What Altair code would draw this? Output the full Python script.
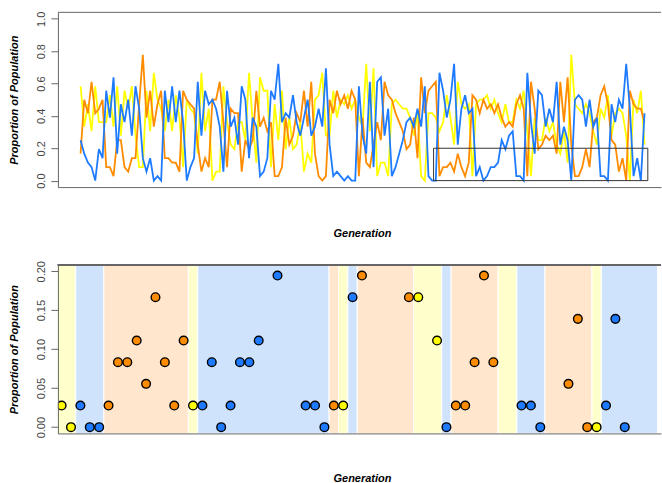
import altair as alt
import pandas as pd

# ---------------- data (counts out of a population of 36) ----------------
POP = 36
blue = [9, 6, 4, 3, 0, 7, 5, 20, 14, 23,
        6, 17, 13, 18, 10, 21, 16, 5, 2, 5,
        0, 1, 0, 20, 13, 21, 13, 20, 13, 0,
        3, 5, 22, 10, 20, 17, 18, 16, 12, 2,
        20, 12, 14, 8, 21, 18, 5, 14, 12, 1,
        2, 5, 20, 18, 26, 13, 15, 14, 19, 13,
        10, 14, 18, 10, 12, 16, 12, 25, 8, 1,
        2, 1, 0, 1, 0, 0, 21, 10, 6, 22,
        3, 22, 23, 10, 16, 1, 3, 6, 9, 13,
        14, 12, 16, 12, 21, 1, 0, 0, 24, 20,
        14, 18, 26, 8, 16, 19, 15, 16, 1, 3,
        0, 1, 3, 3, 4, 9, 7, 10, 11, 1,
        1, 0, 24, 13, 6, 20, 19, 12, 16, 13,
        22, 8, 12, 9, 0, 18, 19, 18, 12, 18,
        12, 14, 1, 1, 0, 17, 13, 18, 16, 26,
        16, 1, 5, 0, 15]
orange = [6, 18, 15, 22, 15, 16, 18, 3, 3, 1,
          9, 9, 3, 2, 5, 5, 17, 28, 14, 20,
          12, 17, 20, 5, 5, 4, 4, 2, 20, 18,
          17, 16, 8, 2, 5, 3, 18, 18, 22, 13,
          3, 16, 15, 15, 2, 9, 7, 9, 20, 12,
          14, 11, 13, 1, 1, 3, 14, 8, 10, 15,
          13, 20, 12, 22, 6, 1, 0, 1, 18, 15,
          20, 17, 19, 16, 20, 18, 1, 14, 4, 3,
          8, 13, 9, 22, 19, 18, 15, 13, 11, 7,
          8, 14, 5, 23, 15, 20, 21, 22, 1, 3,
          3, 4, 2, 6, 3, 1, 4, 19, 18, 15,
          18, 16, 17, 15, 17, 14, 12, 13, 12, 17,
          19, 16, 1, 22, 16, 7, 8, 10, 9, 10,
          6, 22, 13, 23, 8, 1, 1, 3, 7, 3,
          13, 14, 19, 21, 17, 9, 8, 2, 5, 0,
          20, 17, 16, 16, 13]
yellow = [21, 12, 17, 11, 21, 13, 13, 13, 19, 12,
          21, 10, 20, 16, 21, 10, 3, 3, 20, 11,
          24, 18, 16, 11, 18, 11, 19, 14, 3, 18,
          16, 15, 6, 24, 11, 16, 0, 2, 2, 21,
          13, 8, 7, 13, 13, 9, 24, 13, 4, 23,
          20, 20, 3, 17, 9, 20, 7, 14, 7, 8,
          13, 2, 6, 4, 18, 19, 24, 10, 10, 20,
          14, 18, 17, 19, 16, 18, 14, 12, 26, 11,
          25, 1, 4, 4, 1, 17, 18, 17, 16, 16,
          14, 10, 15, 1, 0, 15, 15, 14, 11, 13,
          19, 14, 8, 22, 17, 16, 17, 1, 17, 18,
          18, 19, 16, 18, 15, 13, 17, 13, 13, 18,
          16, 20, 11, 1, 14, 9, 9, 14, 11, 13,
          8, 6, 11, 4, 28, 17, 16, 15, 17, 15,
          11, 8, 16, 14, 19, 10, 15, 16, 15, 10,
          0, 18, 15, 20, 8]

# zoomed window: type with the lowest share and its count (None = above 0.20)
low_type = ["Y", "Y", "B", "B", "B", "O", "O", "O", "O", "O",
            "O", "O", "O", "O", "Y", "B", "B", "B", "B", "B",
            "B", "B", "B", "B", "B", "B", "B", "B", "B", "O",
            "Y", "B", "O", "O", "O", "O", "O", "O", "Y", "Y",
            "Y", "B", "O", "O", "O", "O", "O", "Y", "Y", "B",
            "B", "B", "O", "O", "O", "O", "O", "Y", "B", "B",
            "B", "B", "B", "B"]
low_count = [1, 0, 1, 0, 0, 1, 3, 3, 4, 2,
             6, 3, 1, 4, 1, 1, 3, 0, 1, 3,
             3, 4, None, 7, None, None, 1, 1, 0, 1,
             1, 6, 7, None, None, None, None, 6, 6, None,
             4, 0, 1, 1, 3, 7, 3, None, None, 1,
             1, 0, None, None, 2, 5, 0, 0, 1, 5,
             0, None, None, None]

box_gen = [96.4, 154.9]
box_prop = [0.0, 0.2]

# ---------------- styling ----------------
C_LINE = {"Yellow": "#FFFF00", "Orange": "#FF8C00", "Blue": "#1E7BFF"}
C_PT = {"Y": "#FFFF00", "O": "#FF8C00", "B": "#1E7BFF"}
C_BAND = {"Y": "#FFFFCC", "O": "#FFE6CC", "B": "#D0E3FC"}
FONT = "Liberation Sans"
AX = "#666666"
W = 604
H1 = 175
H2 = 168.7

# ---------------- top panel ----------------
rows = []
for name, arr in [("Yellow", yellow), ("Orange", orange), ("Blue", blue)]:
    for g, c in enumerate(arr):
        rows.append({"gen": g, "series": name, "prop": c / POP})
top_df = pd.DataFrame(rows)

xs_top = alt.Scale(domain=[-6.19, 158.5], nice=False, zero=False)
ys_top = alt.Scale(domain=[-0.04, 1.04], nice=False, zero=False)

x_axis_top = alt.Axis(title="Generation", labels=False, ticks=False, grid=False,
                      domain=True, domainColor=AX, titlePadding=40, titleX=304.5, zindex=1)
y_axis_top = alt.Axis(title="Proportion of Population", values=[0, 0.2, 0.4, 0.6, 0.8, 1.0],
                      format=".1f", grid=False, tickSize=7, tickColor=AX, domainColor=AX,
                      labelAngle=270, labelAlign="center", labelBaseline="alphabetic",
                      labelPadding=6.5, titleX=-40, titleY=H1 / 2, titleBaseline="alphabetic",
                      zindex=1)

base_top = alt.Chart(top_df)
line_layers = []
for name in ["Yellow", "Orange", "Blue"]:
    line_layers.append(
        base_top.transform_filter(alt.datum.series == name)
        .mark_line(strokeWidth=1.8, color=C_LINE[name], clip=True)
        .encode(
            x=alt.X("gen:Q", scale=xs_top, axis=x_axis_top),
            y=alt.Y("prop:Q", scale=ys_top, axis=y_axis_top),
        )
    )

box_df = pd.DataFrame({"x0": [box_gen[0]], "x1": [box_gen[1]],
                       "y0": [box_prop[0]], "y1": [box_prop[1]]})
box = alt.Chart(box_df).mark_rect(fillOpacity=0, stroke="#333333", strokeWidth=1).encode(
    x=alt.X("x0:Q", scale=xs_top, axis=x_axis_top), x2="x1:Q",
    y=alt.Y("y0:Q", scale=ys_top, axis=y_axis_top), y2="y1:Q")

top_rule = alt.Chart(box_df).mark_rule(color=AX, strokeWidth=1).encode(
    x=alt.value(0), x2=alt.value(W), y=alt.value(0))

top = alt.layer(*line_layers, box, top_rule).properties(width=W, height=H1)

# ---------------- bottom panel ----------------
pts = pd.DataFrame({"k": list(range(len(low_type))), "type": low_type,
                    "count": low_count})
pts = pts.dropna(subset=["count"])
pts["prop"] = pts["count"].astype(float) / POP

# runs of the same lowest type -> background bands
bands = []
start = 0
for k in range(1, len(low_type) + 1):
    if k == len(low_type) or low_type[k] != low_type[start]:
        bands.append({"x0": start - 0.5, "x1": k - 0.5, "type": low_type[start]})
        start = k
bands_df = pd.DataFrame(bands)

xs_bot = alt.Scale(domain=[-0.394, 63.86], nice=False, zero=False)
ys_bot = alt.Scale(domain=[-0.008, 0.208], nice=False, zero=False)

x_axis_bot = alt.Axis(title="Generation", labels=False, ticks=False, grid=False,
                      domain=True, domainColor=AX, titlePadding=39.5, titleX=304.5, zindex=1)
y_axis_bot = alt.Axis(title="Proportion of Population", values=[0, 0.05, 0.1, 0.15, 0.2],
                      format=".2f", grid=False, tickSize=7, tickColor=AX, domainColor=AX,
                      labelAngle=270, labelAlign="center", labelBaseline="alphabetic",
                      labelPadding=6.5, titleX=-40, titleY=H2 / 2, titleBaseline="alphabetic",
                      zindex=1)

band_layer = alt.Chart(bands_df).mark_rect(stroke="white", strokeWidth=1, clip=True).encode(
    x=alt.X("x0:Q", scale=xs_bot, axis=x_axis_bot), x2="x1:Q",
    y=alt.value(0), y2=alt.value(H2),
    color=alt.Color("type:N", scale=alt.Scale(domain=list(C_BAND), range=list(C_BAND.values())),
                    legend=None),
)
pt_layer = alt.Chart(pts).mark_circle(size=75, stroke="black", strokeWidth=1.4, opacity=1,
                                      clip=True).encode(
    x=alt.X("k:Q", scale=xs_bot, axis=x_axis_bot),
    y=alt.Y("prop:Q", scale=ys_bot, axis=y_axis_bot),
    fill=alt.Fill("type:N", scale=alt.Scale(domain=list(C_PT), range=list(C_PT.values())),
                  legend=None),
)
bot_rule = alt.Chart(bands_df).mark_rule(color=AX, strokeWidth=1).encode(
    x=alt.value(0), x2=alt.value(W), y=alt.value(0))

bottom = alt.layer(band_layer, pt_layer, bot_rule).resolve_scale(color="independent").properties(
    width=W, height=H2)

chart = (
    alt.vconcat(top, bottom, spacing=78, bounds="flush")
    .properties(padding={"left": 9, "top": 10, "right": 0, "bottom": 0})
    .configure_view(strokeWidth=0)
    .configure_axis(labelFont=FONT, labelFontSize=11, labelColor="#444444",
                    titleFont=FONT, titleFontSize=11, titleFontWeight="bold",
                    titleFontStyle="italic", titleColor="black", domainWidth=1)
)

chart.save("out.html", embed_options={"renderer": "svg", "actions": False})
